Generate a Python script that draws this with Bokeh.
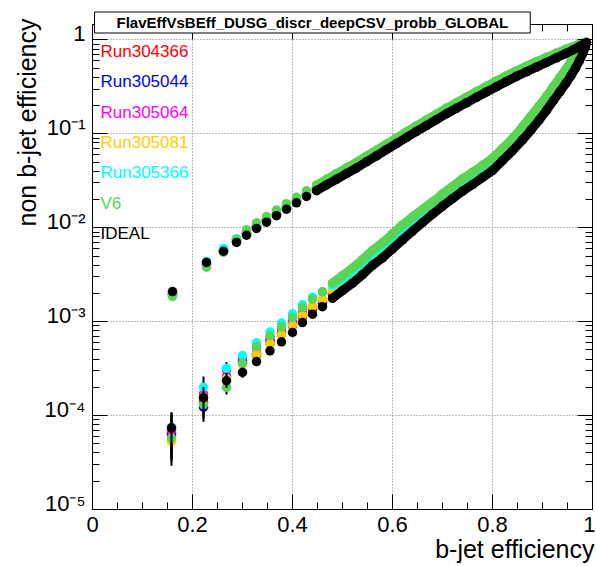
import math
from bokeh.plotting import figure
from bokeh.models import (Range1d, FixedTicker, LinearAxis, LogAxis, Label, Title,
                          CustomJSTickFormatter)
from bokeh.embed import file_html
from bokeh.resources import INLINE

FONT = "Liberation Sans"

TITLE = "FlavEffVsBEff_DUSG_discr_deepCSV_probb_GLOBAL"
X_TITLE = "b-jet efficiency"
Y_TITLE = "non b-jet efficiency"

series_names = ["Run304366", "Run305044", "Run305064", "Run305081", "Run305366", "V6", "IDEAL"]
series_colors = ["#ff0000", "#0000ff", "#ff00ff", "#ffcc00", "#00ffff", "#59d454", "#000000"]

x_ticks = [0, 0.2, 0.4, 0.6, 0.8, 1.0]
y_ticks = [1e-5, 1e-4, 1e-3, 1e-2, 1e-1, 1.0]
y_tick_labels = ["10\u207b\u2075", "10\u207b\u2074", "10\u207b\u00b3", "10\u207b\u00b2", "10\u207b\u00b9", "1"]

# ---- upper branch (shared b-jet efficiency values) ----
upper_x = [0.160, 0.228, 0.262, 0.288, 0.308, 0.328, 0.348, 0.368, 0.388, 0.408,
           0.428, 0.448, 0.468, 0.488, 0.508, 0.528, 0.548, 0.568, 0.588, 0.608,
           0.628, 0.648, 0.668, 0.688, 0.708, 0.728, 0.748, 0.768, 0.788, 0.808,
           0.828, 0.848, 0.868, 0.888, 0.908, 0.928, 0.946, 0.962, 0.974, 0.983, 0.988]

upper_run304366 = [2.00e-3, 4.17e-3, 5.56e-3, 7.12e-3, 8.55e-3, 1.012e-2, 1.180e-2, 1.381e-2, 1.618e-2, 1.893e-2,
                   2.213e-2, 2.549e-2, 2.940e-2, 3.372e-2, 3.886e-2, 4.451e-2, 5.181e-2, 5.993e-2, 6.970e-2, 8.090e-2,
                   9.396e-2, 0.1092, 0.1259, 0.1456, 0.1683, 0.1923, 0.2198, 0.2518, 0.2871, 0.3266,
                   0.3715, 0.4208, 0.4709, 0.5273, 0.5898, 0.6599, 0.7297, 0.7988, 0.8624, 0.9103, 0.9349]
upper_run305044 = [1.95e-3, 4.08e-3, 5.68e-3, 7.22e-3, 8.71e-3, 1.030e-2, 1.202e-2, 1.406e-2, 1.648e-2, 1.928e-2,
                   2.254e-2, 2.597e-2, 2.994e-2, 3.434e-2, 3.958e-2, 4.534e-2, 5.277e-2, 6.104e-2, 7.099e-2, 8.240e-2,
                   9.570e-2, 0.1112, 0.1283, 0.1483, 0.1714, 0.1959, 0.2238, 0.2564, 0.2924, 0.3326,
                   0.3784, 0.4285, 0.4796, 0.5370, 0.5996, 0.6696, 0.7390, 0.8067, 0.8684, 0.9139, 0.9367]
upper_run305064 = [1.93e-3, 3.98e-3, 5.88e-3, 7.48e-3, 8.92e-3, 1.055e-2, 1.231e-2, 1.440e-2, 1.687e-2, 1.974e-2,
                   2.308e-2, 2.659e-2, 3.066e-2, 3.516e-2, 4.052e-2, 4.642e-2, 5.403e-2, 6.250e-2, 7.268e-2, 8.437e-2,
                   9.798e-2, 0.1138, 0.1313, 0.1518, 0.1755, 0.2006, 0.2292, 0.2625, 0.2994, 0.3406,
                   0.3874, 0.4388, 0.4911, 0.5498, 0.6111, 0.6812, 0.7498, 0.8145, 0.8743, 0.9176, 0.9377]
upper_run305081 = [1.97e-3, 4.12e-3, 5.75e-3, 7.31e-3, 8.81e-3, 1.042e-2, 1.216e-2, 1.422e-2, 1.667e-2, 1.950e-2,
                   2.280e-2, 2.626e-2, 3.029e-2, 3.474e-2, 4.003e-2, 4.585e-2, 5.337e-2, 6.174e-2, 7.180e-2, 8.334e-2,
                   9.679e-2, 0.1125, 0.1297, 0.1500, 0.1734, 0.1981, 0.2264, 0.2593, 0.2958, 0.3364,
                   0.3827, 0.4334, 0.4851, 0.5432, 0.6053, 0.6760, 0.7447, 0.8106, 0.8726, 0.9167, 0.9377]
upper_run305366 = [1.90e-3, 4.37e-3, 6.02e-3, 7.65e-3, 9.12e-3, 1.078e-2, 1.258e-2, 1.472e-2, 1.725e-2, 2.018e-2,
                   2.360e-2, 2.718e-2, 3.135e-2, 3.595e-2, 4.143e-2, 4.746e-2, 5.524e-2, 6.390e-2, 7.431e-2, 8.626e-2,
                   0.1002, 0.1164, 0.1343, 0.1552, 0.1794, 0.2051, 0.2343, 0.2684, 0.3061, 0.3482,
                   0.3961, 0.4486, 0.5021, 0.5621, 0.6237, 0.6922, 0.7619, 0.8240, 0.8829, 0.9248, 0.9414]
upper_v6 = [1.86e-3, 3.80e-3, 5.49e-3, 7.48e-3, 9.55e-3, 1.130e-2, 1.318e-2, 1.542e-2, 1.807e-2, 2.113e-2,
            2.472e-2, 2.847e-2, 3.283e-2, 3.765e-2, 4.339e-2, 4.971e-2, 5.786e-2, 6.693e-2, 7.783e-2, 9.035e-2,
            0.1049, 0.1219, 0.1406, 0.1626, 0.1879, 0.2148, 0.2454, 0.2811, 0.3206, 0.3647,
            0.4149, 0.4699, 0.5259, 0.5888, 0.6531, 0.7245, 0.7942, 0.8531, 0.9033, 0.9356, 0.9442]
upper_ideal = [2.09e-3, 4.27e-3, 5.62e-3, 6.98e-3, 8.32e-3, 9.84e-3, 1.148e-2, 1.343e-2, 1.574e-2, 1.841e-2,
               2.153e-2, 2.48e-2, 2.86e-2, 3.28e-2, 3.78e-2, 4.33e-2, 5.04e-2, 5.83e-2, 6.78e-2, 7.87e-2,
               9.14e-2, 0.1062, 0.1225, 0.1416, 0.1637, 0.1871, 0.2138, 0.2449, 0.2793, 0.3177,
               0.3614, 0.4093, 0.4581, 0.5129, 0.5754, 0.6457, 0.7161, 0.787, 0.853, 0.904, 0.933]
upper_rel_err = [0.10, 0.07, 0.05, 0.04]

# ---- lower branch ----
lower_x = [0.158, 0.222, 0.268, 0.300, 0.328, 0.355, 0.378, 0.400, 0.420, 0.440,
           0.460, 0.480, 0.500, 0.520, 0.540, 0.560, 0.580, 0.600, 0.620, 0.640,
           0.660, 0.680, 0.700, 0.720, 0.740, 0.760, 0.780, 0.800, 0.820, 0.840,
           0.860, 0.877, 0.893, 0.908, 0.922, 0.935, 0.947, 0.957, 0.966, 0.974, 0.981, 0.986]

lower_run304366 = [6.5e-5, 1.40e-4, 2.45e-4, 3.6e-4, 4.4e-4, 5.9e-4, 7.3e-4, 9.0e-4, 1.12e-3, 1.36e-3,
                   1.566e-3, 1.927e-3, 2.318e-3, 2.786e-3, 3.428e-3, 4.315e-3, 5.188e-3, 6.457e-3, 8.036e-3, 1.000e-2,
                   1.230e-2, 1.513e-2, 1.841e-2, 2.214e-2, 2.661e-2, 3.126e-2, 3.716e-2, 4.416e-2, 5.624e-2, 7.162e-2,
                   9.333e-2, 0.1188, 0.1513, 0.1927, 0.2455, 0.3055, 0.3758, 0.4519, 0.5363, 0.6388, 0.7570, 0.8724]
lower_run305044 = [6.2e-5, 1.23e-4, 2.6e-4, 3.8e-4, 4.6e-4, 6.3e-4, 7.6e-4, 9.5e-4, 1.17e-3, 1.40e-3,
                   1.603e-3, 1.972e-3, 2.371e-3, 2.850e-3, 3.507e-3, 4.415e-3, 5.308e-3, 6.606e-3, 8.221e-3, 1.023e-2,
                   1.259e-2, 1.548e-2, 1.883e-2, 2.265e-2, 2.723e-2, 3.198e-2, 3.802e-2, 4.518e-2, 5.753e-2, 7.327e-2,
                   9.548e-2, 0.1215, 0.1548, 0.1972, 0.2512, 0.3125, 0.3845, 0.4623, 0.5463, 0.6478, 0.7679, 0.8809]
lower_run305064 = [7.0e-5, 1.70e-4, 3.05e-4, 4.2e-4, 5.3e-4, 6.9e-4, 8.4e-4, 1.03e-3, 1.25e-3, 1.45e-3,
                   1.659e-3, 2.041e-3, 2.454e-3, 2.950e-3, 3.630e-3, 4.570e-3, 5.494e-3, 6.839e-3, 8.510e-3, 1.059e-2,
                   1.303e-2, 1.603e-2, 1.949e-2, 2.344e-2, 2.818e-2, 3.311e-2, 3.935e-2, 4.677e-2, 5.956e-2, 7.585e-2,
                   9.884e-2, 0.1258, 0.1603, 0.2041, 0.2600, 0.3235, 0.3980, 0.4786, 0.5613, 0.6629, 0.7824, 0.8894]
lower_run305081 = [5.3e-5, 1.57e-4, 2.5e-4, 3.55e-4, 4.52e-4, 5.89e-4, 7.33e-4, 9.22e-4, 1.174e-3, 1.445e-3,
                   1.737e-3, 2.137e-3, 2.570e-3, 3.089e-3, 3.801e-3, 4.785e-3, 5.753e-3, 7.160e-3, 8.910e-3, 1.109e-2,
                   1.364e-2, 1.678e-2, 2.041e-2, 2.455e-2, 2.951e-2, 3.467e-2, 4.120e-2, 4.897e-2, 6.236e-2, 7.942e-2,
                   0.1035, 0.1317, 0.1678, 0.2137, 0.2723, 0.3387, 0.4167, 0.5011, 0.5864, 0.6870, 0.8041, 0.9022]
lower_run305366 = [7.5e-5, 2.0e-4, 3.2e-4, 4.36e-4, 5.95e-4, 7.76e-4, 9.66e-4, 1.214e-3, 1.514e-3, 1.819e-3,
                   2.07e-3, 2.453e-3, 2.882e-3, 3.465e-3, 4.263e-3, 5.368e-3, 6.453e-3, 8.031e-3, 9.992e-3, 1.217e-2,
                   1.461e-2, 1.757e-2, 2.138e-2, 2.570e-2, 3.090e-2, 3.630e-2, 4.314e-2, 5.128e-2, 6.530e-2, 8.316e-2,
                   0.1108, 0.1445, 0.1841, 0.2344, 0.2986, 0.3715, 0.4571, 0.5496, 0.6276, 0.7284, 0.8355, 0.9188]
lower_v6 = [5.8e-5, 1.31e-4, 2.0e-4, 3.6e-4, 5.43e-4, 7.08e-4, 8.81e-4, 1.108e-3, 1.412e-3, 1.737e-3,
            2.088e-3, 2.569e-3, 3.089e-3, 3.714e-3, 4.569e-3, 5.753e-3, 6.916e-3, 8.608e-3, 1.071e-2, 1.304e-2,
            1.566e-2, 1.883e-2, 2.291e-2, 2.755e-2, 3.312e-2, 3.891e-2, 4.624e-2, 5.496e-2, 6.999e-2, 8.913e-2,
            0.1188, 0.1549, 0.1973, 0.2512, 0.3200, 0.3982, 0.4899, 0.5891, 0.6606, 0.7587, 0.8613, 0.9328]
lower_ideal = [7.4e-5, 1.55e-4, 2.35e-4, 2.88e-4, 3.76e-4, 4.90e-4, 6.10e-4, 7.67e-4, 9.77e-4, 1.202e-3,
               1.445e-3, 1.778e-3, 2.138e-3, 2.570e-3, 3.162e-3, 3.981e-3, 4.786e-3, 5.957e-3, 7.413e-3, 9.226e-3,
               1.135e-2, 1.396e-2, 1.698e-2, 2.042e-2, 2.455e-2, 2.884e-2, 3.428e-2, 4.074e-2, 5.188e-2, 6.607e-2,
               8.610e-2, 0.1096, 0.1396, 0.1778, 0.2265, 0.2818, 0.3467, 0.4169, 0.5012, 0.6026, 0.7244, 0.8511]
lower_rel_err = [0.45, 0.30, 0.16, 0.12, 0.10, 0.08, 0.07, 0.06, 0.05, 0.045, 0.04]

upper_series = [upper_run304366, upper_run305044, upper_run305064, upper_run305081,
                upper_run305366, upper_v6, upper_ideal]
lower_series = [lower_run304366, lower_run305044, lower_run305064, lower_run305081,
                lower_run305366, lower_v6, lower_ideal]

# where the markers are so dense that they merge into a band
UPPER_DENSE_FROM = 11
LOWER_DENSE_FROM = 11

Y_START, Y_END = 1e-5, 1.46
LABEL_SHIFT = 10 ** -0.064   # raises the y tick labels ~6 px above their ticks (ROOT look)

# ---------------- figure ----------------
p = figure(frame_width=500, frame_height=485, title=None,
           x_range=Range1d(0, 1), y_range=Range1d(Y_START, Y_END),
           y_axis_type="log", output_backend="svg", toolbar_location=None,
           min_border_left=92, min_border_right=3, min_border_top=24, min_border_bottom=56)
p.extra_y_ranges = {"labels": Range1d(Y_START * LABEL_SHIFT, Y_END * LABEL_SHIFT)}
p.background_fill_color = "white"
p.border_fill_color = "white"
p.outline_line_color = "black"
p.outline_line_width = 1

x_minor = [round(0.05 * i, 2) for i in range(21) if i % 4 != 0]
y_minor = [k * 10.0 ** n for n in range(-5, 1) for k in range(2, 10) if k * 10.0 ** n < Y_END]
xt = FixedTicker(ticks=x_ticks, minor_ticks=x_minor)
yt = FixedTicker(ticks=y_ticks, minor_ticks=y_minor)
blank = CustomJSTickFormatter(code="return '';")


def style_ticks(ax):
    ax.major_tick_in = 15
    ax.major_tick_out = 0
    ax.minor_tick_in = 7
    ax.minor_tick_out = 0
    ax.axis_line_color = "black"
    ax.major_tick_line_color = "black"
    ax.minor_tick_line_color = "black"


def hide_labels(ax):
    ax.formatter = blank
    ax.major_label_text_font_size = "2px"
    ax.major_label_standoff = 0


xa = p.xaxis[0]
xa.ticker = xt
xa.formatter = CustomJSTickFormatter(code="return (Math.round(tick*10)/10).toString();")
xa.major_label_text_font = FONT
xa.major_label_text_font_size = "22px"
xa.major_label_text_color = "black"
xa.major_label_standoff = 7
style_ticks(xa)

ya = p.yaxis[0]
ya.ticker = yt
hide_labels(ya)
style_ticks(ya)

# label-only axis for the y tick labels
y_label_axis = LogAxis(y_range_name="labels", ticker=FixedTicker(ticks=y_ticks, minor_ticks=[]))
y_label_axis.formatter = CustomJSTickFormatter(
    args=dict(vals=y_ticks, labs=y_tick_labels),
    code="""
    for (let i = 0; i < vals.length; i++) {
        if (Math.abs(Math.log10(tick) - Math.log10(vals[i])) < 1e-6) return labs[i];
    }
    return '';
    """)
y_label_axis.major_label_text_font = FONT
y_label_axis.major_label_text_font_size = "22px"
y_label_axis.major_label_text_color = "black"
y_label_axis.major_label_standoff = 7
y_label_axis.major_tick_in = 0
y_label_axis.major_tick_out = 0
y_label_axis.minor_tick_in = 0
y_label_axis.minor_tick_out = 0
y_label_axis.axis_line_color = None
y_label_axis.major_tick_line_color = None
y_label_axis.minor_tick_line_color = None
p.add_layout(y_label_axis, "left")

top_axis = LinearAxis(ticker=xt)
hide_labels(top_axis)
style_ticks(top_axis)
p.add_layout(top_axis, "above")
right_axis = LogAxis(ticker=yt)
hide_labels(right_axis)
style_ticks(right_axis)
p.add_layout(right_axis, "right")

for g in (p.xgrid[0], p.ygrid[0]):
    g.grid_line_color = "#7a7a7a"
    g.grid_line_dash = "1 2"
    g.grid_line_width = 1
p.xgrid[0].ticker = xt
p.ygrid[0].ticker = yt

# ---------------- data ----------------
for name, color, uy, ly in zip(series_names, series_colors, upper_series, lower_series):
    # dense parts: overlapping markers form a continuous band
    p.line(x=upper_x[UPPER_DENSE_FROM:], y=uy[UPPER_DENSE_FROM:], line_color=color,
           line_width=9, line_cap="round", line_join="round")
    p.line(x=lower_x[LOWER_DENSE_FROM:], y=ly[LOWER_DENSE_FROM:], line_color=color,
           line_width=9, line_cap="round", line_join="round")
    ex, ey0, ey1 = [], [], []
    for xv, yv, e in zip(upper_x, uy, upper_rel_err):
        ex.append(xv); ey0.append(yv * (1 - e)); ey1.append(yv * (1 + e))
    for xv, yv, e in zip(lower_x, ly, lower_rel_err):
        ex.append(xv); ey0.append(yv * (1 - e)); ey1.append(yv * (1 + e))
    p.segment(x0=ex, y0=ey0, x1=ex, y1=ey1, line_color="black", line_width=2)
    p.scatter(x=upper_x + lower_x, y=uy + ly, marker="circle", size=9.5,
              fill_color=color, line_color=None)

# ---------------- texts ----------------
legend_baselines = [458, 428, 397, 367, 337, 306, 276]
for name, color, yb in zip(series_names, series_colors, legend_baselines):
    p.add_layout(Label(x=8, y=yb, x_units="screen", y_units="screen", text=name,
                       text_align="left", text_baseline="alphabetic",
                       text_font=FONT, text_font_size="17px", text_color=color))

x_title = Title(text=X_TITLE, align="right", vertical_align="top", offset=-2, standoff=1,
                text_font=FONT, text_font_size="25px", text_font_style="normal",
                text_color="black")
p.add_layout(x_title, "below")

y_title = Title(text=Y_TITLE, align="right", vertical_align="bottom", offset=-6, standoff=2,
                text_font=FONT, text_font_size="25px", text_font_style="normal",
                text_color="black")
p.add_layout(y_title, "left")

main_title = Title(text=TITLE, align="left", vertical_align="bottom", offset=2, standoff=-17,
                   text_font=FONT, text_font_size="15px", text_font_style="bold",
                   text_color="black", background_fill_color="white",
                   border_line_color="black", border_line_width=1, padding=(22, 2))
p.add_layout(main_title, "above")

open("out.html", "w").write(file_html(p, INLINE))
